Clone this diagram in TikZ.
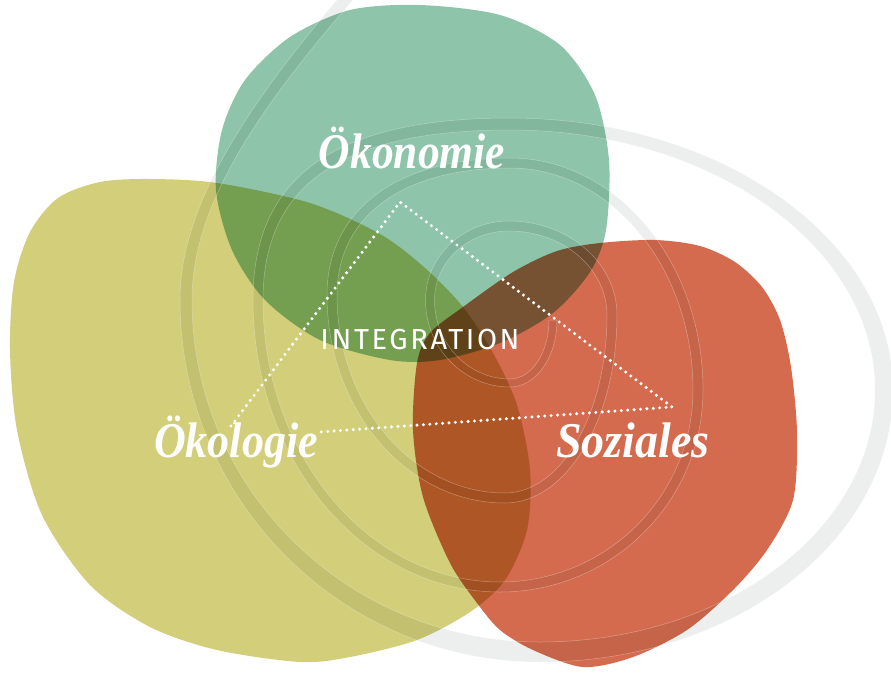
\documentclass[tikz,border=0pt]{standalone}
\usepackage{fontspec}
\usepackage{graphicx}
\newfontfamily\labelfont{Liberation Serif}
\newfontfamily\integfont[LetterSpace=9]{Fira Sans}
\definecolor{yel}{RGB}{210,206,121}
\definecolor{tealc}{RGB}{142,196,169}
\definecolor{redc}{RGB}{212,107,78}
\definecolor{bandc}{RGB}{237,239,238}
\def\spiral{(557,320)
 .. controls +(0,37) and +(26,0) .. (510,387)
 .. controls +(-46.6,0) and +(0,48) .. (425.5,300)
 .. controls +(0,-43.6) and +(-46.1,0) .. (509,221)
 .. controls +(59.6,0) and +(0,-51.9) .. (617,315)
 .. controls +(0,103.8) and +(61.8,0) .. (505,503)
 .. controls +(-98.3,0) and +(0,114.8) .. (327,295)
 .. controls +(0,-84.9) and +(-113.5,0) .. (510,158)
 .. controls +(106.5,0) and +(0,-128.1) .. (703,390)
 .. controls +(0,111.5) and +(112.1,0) .. (500,592)
 .. controls +(-136.3,0) and +(0,161.2) .. (253,300)
 .. controls +(0,-123.8) and +(-174.8,0) .. (510,118)
 .. controls +(211.4,0) and +(0,-150.1) .. (893,390)
 .. controls +(0,150.1) and +(194.9,0) .. (540,662)
 .. controls +(-198.7,0) and +(0,199.8) .. (180,300)
 .. controls +(0,-100) and +(-120,134) .. (375.5,-44)
 -- (384.5,-36)
 .. controls +(-120,134) and +(0,-100) .. (192,300)
 .. controls +(0,188.8) and +(-192.1,0) .. (540,642)
 .. controls +(184.9,0) and +(0,139.1) .. (875,390)
 .. controls +(0,-143.5) and +(201.5,0) .. (510,130)
 .. controls +(-168,0) and +(0,-115.6) .. (263,300)
 .. controls +(0,155.7) and +(-130.8,0) .. (500,582)
 .. controls +(106.5,0) and +(0,106) .. (693,390)
 .. controls +(0,-122.5) and +(101,0) .. (510,168)
 .. controls +(-107.3,0) and +(0,-78.7) .. (337,295)
 .. controls +(0,109.3) and +(-92.7,0) .. (505,493)
 .. controls +(56.3,0) and +(0,98.3) .. (607,315)
 .. controls +(0,-46.4) and +(54.1,0) .. (509,231)
 .. controls +(-41.1,0) and +(0,-38.1) .. (434.5,300)
 .. controls +(0,43.6) and +(-41.7,0) .. (510,379)
 .. controls +(21.5,0) and +(0,32.6) .. (549,320)
 -- cycle}
\tikzset{
  lbl/.style={text=white, inner sep=0pt, anchor=base, font=\labelfont\bfseries\itshape\fontsize{50}{50}\selectfont},
  integ/.style={text=white, inner sep=0pt, anchor=base, font=\integfont\fontsize{29}{29}\selectfont},
  dotline/.style={white, line width=3.4pt, dash pattern=on 0pt off 6.4pt, line cap=round}
}
\begin{document}
\begin{tikzpicture}[x=1pt, y=-1pt]
\useasboundingbox (0,0) rectangle (891,672);
\fill[white] (0,0) rectangle (891,672);
\begin{scope}
\clip (0,0) rectangle (891,672);
\fill[bandc] \spiral;
\end{scope}
\begin{scope}[blend mode=multiply]
\fill[yel] plot[smooth cycle] coordinates {(150,179) (217,183) (310,203) (380,234) (425,268) (463,307) (493,353) (517,405) (530,470) (527,530) (505,580) (470,612) (417,640) (350,657) (300,662) (217,650) (150,627) (90,585) (42,515) (17,430) (10,350) (14,282) (30,232) (58,198) (100,182)};
\fill[tealc] plot[smooth cycle] coordinates {(420,5) (500,15) (560,45) (595,95) (609,160) (606,230) (590,272) (553,313) (500,343) (440,360) (390,360) (320,340) (265,300) (232,250) (216,190) (222,130) (245,80) (290,37) (350,10)};
\fill[redc] plot[smooth cycle] coordinates {(417,363) (430,333) (463,307) (513,272) (557,251) (600,243) (655,240) (700,246) (735,262) (762,287) (780,320) (791,367) (797,433) (793,500) (767,550) (733,590) (687,630) (633,657) (583,667) (533,650) (500,630) (477,603) (450,563) (423,497) (413,430)};
\end{scope}
\begin{scope}
\clip (0,0) rectangle (891,672);
\draw[white, opacity=0.35, line width=0.5pt] \spiral;
\end{scope}
\node[lbl] (oekonomie) at (412,168) {\scalebox{0.87}[1]{Ökonomie}};
\node[lbl] (oekologie) at (236,457) {\scalebox{0.88}[1]{Ökologie}};
\node[lbl] (soziales) at (633,457) {\scalebox{0.92}[1]{Soziales}};
\node[integ] (integration) at (420,349) {INTEGRATION};
\coordinate (ttop) at (400,202);
\coordinate (tright) at (672,407);
\coordinate (tleft) at (231,426);
\coordinate (tbl) at (320,432);
\draw[dotline] (tleft) -- (ttop) -- (tright) -- (tbl);
\end{tikzpicture}
\end{document}
